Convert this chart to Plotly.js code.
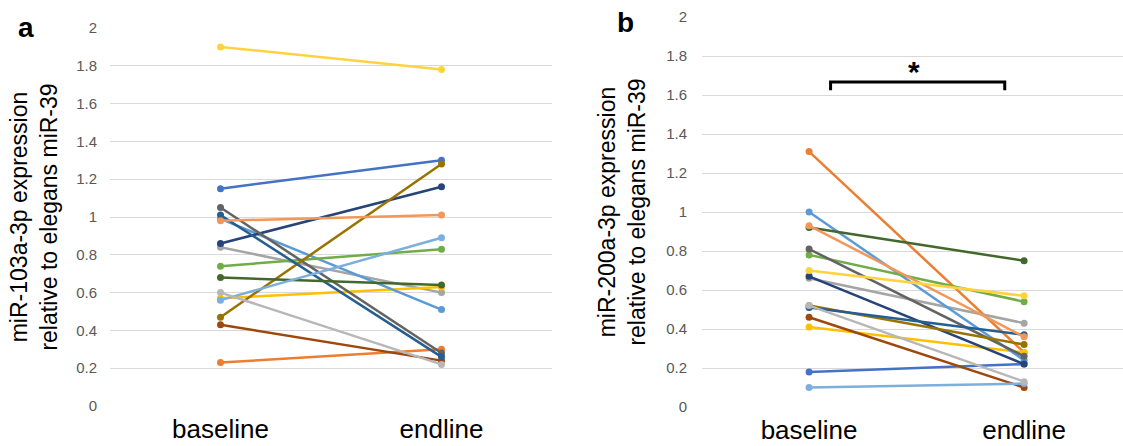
<!DOCTYPE html>
<html>
<head>
<meta charset="utf-8">
<script src="https://cdn.plot.ly/plotly-3.0.1.min.js"></script>
<style>html,body{margin:0;padding:0;background:#fff;}#chart{width:1123px;height:446px;}</style>
</head>
<body>
<div id="chart"></div>
<script>
// ---- data ----
const timepoints = ["baseline", "endline"];
const yTicks = [0, 0.2, 0.4, 0.6, 0.8, 1, 1.2, 1.4, 1.6, 1.8, 2];
const yTickText = ["0", "0.2", "0.4", "0.6", "0.8", "1", "1.2", "1.4", "1.6", "1.8", "2"];

// panel a: miR-103a-3p (baseline, endline) per participant
const a_baseline = [1.15, 0.23, 0.84, 0.57, 0.99, 0.74, 0.86, 0.43, 1.05, 0.47, 1.01, 0.68, 0.56, 0.98, 0.60, 1.90];
const a_endline  = [1.30, 0.30, 0.60, 0.63, 0.51, 0.83, 1.16, 0.24, 0.28, 1.28, 0.26, 0.64, 0.89, 1.01, 0.22, 1.78];

// panel b: miR-200a-3p (baseline, endline) per participant
const b_baseline = [0.18, 1.31, 0.66, 0.41, 1.00, 0.78, 0.67, 0.46, 0.81, 0.52, 0.51, 0.92, 0.10, 0.93, 0.52, 0.70];
const b_endline  = [0.22, 0.28, 0.43, 0.28, 0.24, 0.54, 0.22, 0.10, 0.26, 0.32, 0.37, 0.75, 0.12, 0.36, 0.13, 0.57];

const seriesColors = ["#4472C4", "#ED7D31", "#A5A5A5", "#FFC000", "#5B9BD5", "#70AD47", "#264478", "#9E480E",
                      "#636363", "#997300", "#255E91", "#43682B", "#7CAFDD", "#F1975A", "#B7B7B7", "#FFD340"];

const panelLabels = ["a", "b"];
const yTitles = ["miR-103a-3p expression<br>relative to elegans miR-39",
                 "miR-200a-3p expression<br>relative to elegans miR-39"];
const sigMark = "*";

// ---- traces ----
const traces = [];
function addPanel(base, end, xa, ya) {
  for (let i = 0; i < base.length; i++) {
    traces.push({
      type: "scatter", mode: "lines+markers",
      x: timepoints, y: [base[i], end[i]],
      xaxis: xa, yaxis: ya,
      line: {color: seriesColors[i], width: 2.5},
      marker: {color: seriesColors[i], size: 7},
      showlegend: false, hoverinfo: "y"
    });
  }
}
addPanel(a_baseline, a_endline, "x", "y");
addPanel(b_baseline, b_endline, "x2", "y2");

const W = 1123, H = 446;
const tickFont = {family: "Liberation Sans, Arial, sans-serif", size: 15, color: "#595959"};
const xTickFont = {family: "Liberation Sans, Arial, sans-serif", size: 26, color: "#000"};
const titleFont = {family: "Liberation Sans, Arial, sans-serif", size: 23, color: "#000"};

function yAxis(domain, title, standoff, anchor, labelGap) {
  return {
    domain: domain, range: [0, 2], tickvals: yTicks, ticktext: yTickText, anchor: anchor,
    showgrid: true, gridcolor: "#d9d9d9", gridwidth: 1, zeroline: false,
    showline: false, ticks: "", tickfont: tickFont, ticklabelstandoff: labelGap,
    title: {text: title, font: titleFont, standoff: standoff}, automargin: false, fixedrange: true
  };
}
function xAxis(domain, range, anchor) {
  return {
    domain: domain, type: "category", range: range, anchor: anchor,
    showgrid: false, zeroline: false, showline: false, ticks: "",
    tickfont: xTickFont, ticklabelstandoff: 5, automargin: false, fixedrange: true
  };
}

const layout = {
  width: W, height: H,
  margin: {l: 0, r: 0, t: 0, b: 0},
  paper_bgcolor: "#fff", plot_bgcolor: "#fff",
  showlegend: false,
  xaxis: xAxis([110 / W, 552 / W], [-0.5, 1.5], "y"),
  yaxis: yAxis([(H - 406) / H, (H - 28) / H], yTitles[0], 12, "x", 12),
  xaxis2: xAxis([702 / W, 1], [-0.498, 1.46], "y2"),
  yaxis2: yAxis([(H - 407) / H, (H - 17) / H], yTitles[1], 14, "x2", 14),
  shapes: [{
    type: "path", xref: "x2", yref: "y2",
    path: "M 0.1,1.625 L 0.1,1.667 L 0.91,1.667 L 0.91,1.625",
    line: {color: "#000", width: 3}
  }],
  annotations: [
    {text: "<b>" + panelLabels[0] + "</b>", xref: "paper", yref: "paper", x: 26 / W, y: 1 - 28 / H,
     xanchor: "center", yanchor: "middle", showarrow: false,
     font: {family: "Liberation Sans, Arial, sans-serif", size: 28, color: "#000"}},
    {text: "<b>" + panelLabels[1] + "</b>", xref: "paper", yref: "paper", x: 625 / W, y: 1 - 22 / H,
     xanchor: "center", yanchor: "middle", showarrow: false,
     font: {family: "Liberation Sans, Arial, sans-serif", size: 28, color: "#000"}},
    {text: "<b>" + sigMark + "</b>", xref: "x2", yref: "y2", x: 0.49, y: 1.72,
     xanchor: "center", yanchor: "middle", showarrow: false,
     font: {family: "Liberation Sans, Arial, sans-serif", size: 30, color: "#000"}}
  ]
};

Plotly.newPlot("chart", traces, layout, {displayModeBar: false, staticPlot: true});
</script>
</body>
</html>
